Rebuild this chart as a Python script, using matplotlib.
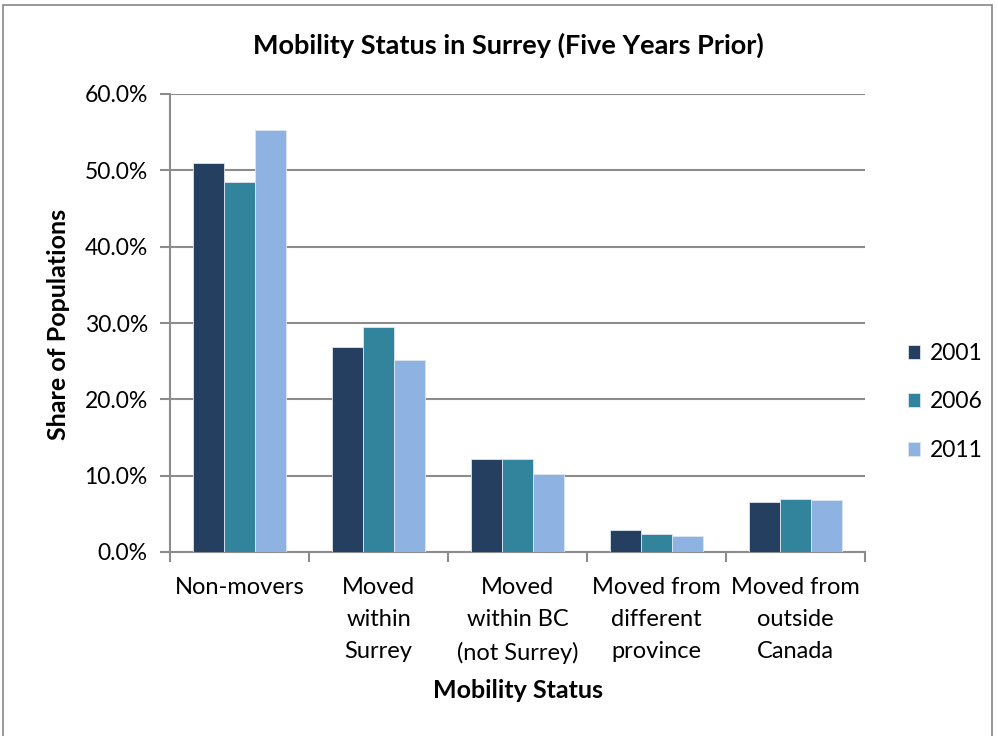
import numpy as np
import matplotlib.pyplot as plt
from matplotlib.patches import Rectangle
from matplotlib.ticker import FuncFormatter

plt.rcParams["font.family"] = ["Lato", "DejaVu Sans"]

categories = ["Non-movers", "Moved\nwithin\nSurrey", "Moved\nwithin BC\n(not Surrey)",
              "Moved from\ndifferent\nprovince", "Moved from\noutside\nCanada"]
years = ["2001", "2006", "2011"]
share_2001 = [51.0, 26.8, 12.2, 2.9, 6.6]
share_2006 = [48.5, 29.5, 12.2, 2.3, 7.0]
share_2011 = [55.3, 25.1, 10.2, 2.1, 6.8]
colors = ["#243F60", "#31849B", "#8EB3E2"]

fig = plt.figure(figsize=(9.98, 7.36), dpi=100)
ax = fig.add_axes([170 / 998, 1 - 552 / 736, 695 / 998, 458 / 736])

# outer chart frame
fig.patches.append(Rectangle((3 / 998, -0.1), 989 / 998, 1.1 - 5 / 736,
                             transform=fig.transFigure, fill=False,
                             edgecolor="#868686", linewidth=1.2))

x = np.arange(len(categories))
w = 1 / 4.5
for i, (vals, col, yr) in enumerate(zip([share_2001, share_2006, share_2011], colors, years)):
    ax.bar(x + (i - 1) * w, vals, width=w, color=col, edgecolor="#dde6f0",
           linewidth=0.6, label=yr, zorder=3)

ax.set_xlim(-0.5, len(categories) - 0.5)
ax.set_ylim(0, 60)
ax.set_yticks(np.arange(0, 61, 10))
ax.yaxis.set_major_formatter(FuncFormatter(lambda v, p: f"{v:.1f}%"))
ax.yaxis.grid(True, color="#8c8c8c", linewidth=1.5, zorder=0)
ax.set_axisbelow(True)

ax.set_xticks(np.arange(-0.5, len(categories), 1))
ax.set_xticklabels([])
ax.set_xticks(x, minor=True)
ax.set_xticklabels(categories, minor=True, fontsize=17, linespacing=1.65,
                   va="top")
ax.tick_params(axis="x", which="minor", length=0, pad=18)
ax.tick_params(axis="x", which="major", length=7, width=1.5, color="#8c8c8c")
ax.tick_params(axis="y", length=7, width=1.5, color="#8c8c8c", labelsize=16.5, pad=9)

for s in ["top", "right"]:
    ax.spines[s].set_visible(False)
for s in ["left", "bottom"]:
    ax.spines[s].set_color("#8c8c8c")
    ax.spines[s].set_linewidth(1.5)

fig.text(508 / 998, 1 - 45 / 736, "Mobility Status in Surrey (Five Years Prior)",
         ha="center", va="center", fontsize=19.5, fontweight="bold")
fig.text(58 / 998, 1 - 324 / 736, "Share of Populations", rotation=90,
         ha="center", va="center", fontsize=18, fontweight="bold")
fig.text(518 / 998, 1 - 690 / 736, "Mobility Status",
         ha="center", va="center", fontsize=18, fontweight="bold")

fig.legend(loc="center left", bbox_to_anchor=(887 / 998, 1 - 402 / 736),
           frameon=False, fontsize=16.5, handlelength=0.55, handleheight=0.55,
           handletextpad=0.4, labelspacing=1.2)

fig.savefig("out.png", dpi=100)
